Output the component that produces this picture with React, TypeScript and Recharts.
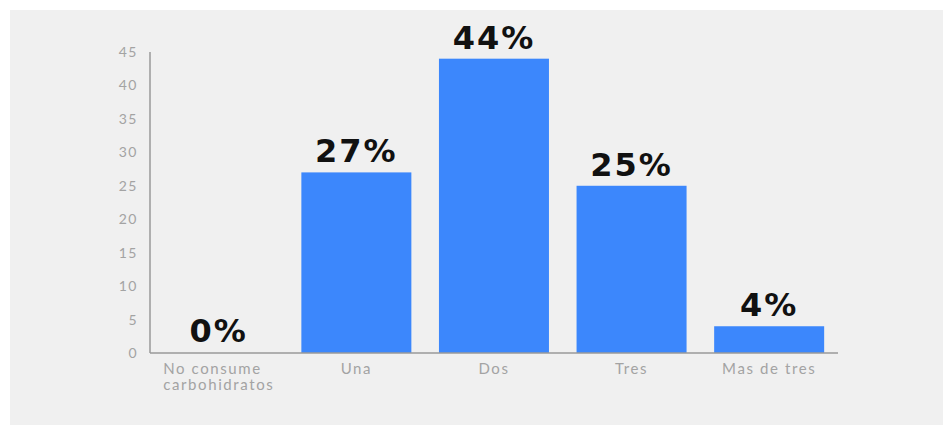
import React from 'react';
import { BarChart, Bar, XAxis, YAxis, LabelList } from 'recharts';

const categories = ['No consume\ncarbohidratos', 'Una', 'Dos', 'Tres', 'Mas de tres'];
const values = [0, 27, 44, 25, 4];
const yTicks = [0, 5, 10, 15, 20, 25, 30, 35, 40, 45];

const data = categories.map((c, i) => ({ name: c, value: values[i] }));

const TICK_SIZE = 15;
const TICK_LS = 1.6;
let ctx: CanvasRenderingContext2D | null = null;
function measure(t: string): number {
  if (!ctx) {
    const c = document.createElement('canvas');
    ctx = c.getContext('2d');
  }
  if (!ctx) return t.length * 9;
  ctx.font = `${TICK_SIZE}px Lato`;
  return ctx.measureText(t).width + t.length * TICK_LS;
}

const XTick = (props: any) => {
  const { x, y, payload } = props;
  const lines = String(payload.value).split('\n');
  const maxW = Math.max(...lines.map(measure));
  return (
    <text
      x={x - maxW / 2}
      y={y}
      fill="#a3a3a3"
      fontFamily="Lato"
      fontSize={TICK_SIZE}
      letterSpacing={TICK_LS}
      textAnchor="start"
    >
      {lines.map((l, i) => (
        <tspan key={i} x={x - maxW / 2} dy={i === 0 ? '0.71em' : 16}>
          {l}
        </tspan>
      ))}
    </text>
  );
};

const BarShape = (props: any) => {
  const { x, y, width, height, value, fill } = props;
  const v = Array.isArray(value) ? value[1] - value[0] : value;
  if (!v) return null;
  return <rect x={x} y={y} width={width} height={height} fill={fill} />;
};

export default function App() {
  return (
    <div
      style={{
        position: 'fixed',
        left: 10,
        top: 10,
        width: 933,
        height: 415,
        background: '#f0f0f0',
      }}
    >
      <BarChart
        width={933}
        height={415}
        data={data}
        margin={{ top: 42, right: 105, bottom: 42, left: 0 }}
        barCategoryGap="10%"
      >
        <XAxis
          dataKey="name"
          tick={<XTick />}
          tickLine={false}
          tickMargin={4}
          axisLine={{ stroke: '#9a9a9a', strokeWidth: 1.5 }}
          interval={0}
        />
        <YAxis
          width={140}
          domain={[0, 45]}
          ticks={yTicks}
          tickLine={false}
          tickMargin={6}
          axisLine={{ stroke: '#9a9a9a', strokeWidth: 1.5 }}
          tick={{ fill: '#a3a3a3', fontFamily: 'Lato', fontSize: 14, letterSpacing: 1.5 }}
        />
        <Bar
          dataKey="value"
          fill="#3c87fc"
          isAnimationActive={false}
          minPointSize={1}
          shape={<BarShape />}
        >
          <LabelList
            dataKey="value"
            position="top"
            offset={10}
            formatter={(v: any) => `${v}%`}
            fill="#111"
            fontFamily="DejaVu Sans"
            fontWeight="bold"
            fontSize={32}
            letterSpacing={2}
          />
        </Bar>
      </BarChart>
    </div>
  );
}
